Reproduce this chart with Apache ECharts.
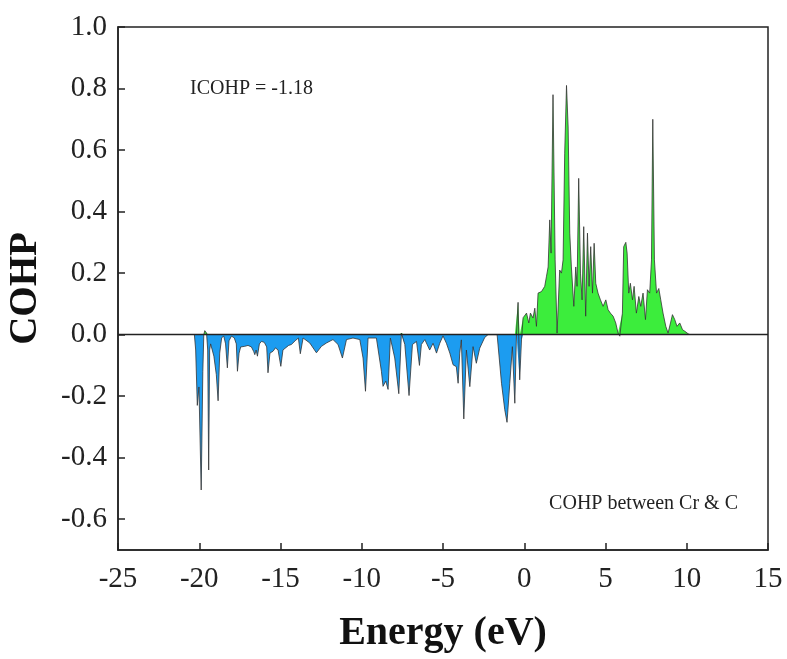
<!DOCTYPE html>
<html>
<head>
<meta charset="utf-8">
<title>COHP between Cr & C</title>
<script src="https://cdn.jsdelivr.net/npm/echarts@6/dist/echarts.min.js"></script>
<style>
  html, body { margin: 0; padding: 0; background: #fff; }
  #chart { width: 787px; height: 659px; }
</style>
</head>
<body>
<div id="chart"></div>
<script>
// bonding / antibonding COHP, energy in eV
// below the Fermi level (mostly negative)
const energyLow = [
  -20.30, -20.22, -20.12, -20.02, -19.88, -19.78, -19.72, -19.66, -19.55, -19.48,
  -19.42, -19.36, -19.30, -19.10, -18.95, -18.84, -18.74, -18.62, -18.49, -18.38,
  -18.27, -18.17, -18.02, -17.85, -17.72, -17.65, -17.55, -17.45, -17.20, -17.00,
  -16.79, -16.65, -16.58, -16.50, -16.42, -16.30, -16.17, -16.00, -15.85, -15.77,
  -15.65, -15.46, -15.31, -15.15, -14.98, -14.85, -14.74, -14.50, -14.33, -14.10,
  -13.90, -13.78, -13.61, -13.20, -12.79, -12.48, -12.17, -11.77, -11.46, -11.19,
  -10.94, -10.54, -10.12, -9.92, -9.77, -9.61, -9.10, -8.79, -8.69, -8.52,
  -8.38, -8.24, -7.97, -7.72, -7.56, -7.35, -7.09, -6.88, -6.63, -6.45,
  -6.33, -6.12, -6.02, -5.82, -5.61, -5.40, -5.20, -5.00, -4.79, -4.58,
  -4.38, -4.18, -4.07, -3.97, -3.87, -3.72, -3.56, -3.35, -3.15, -2.95,
  -2.74, -2.43, -2.23, -1.67, -1.61, -1.40, -1.20, -1.06, -0.89, -0.73,
  -0.58, -0.48, -0.38, -0.28, -0.17, -0.07
];
const cohpLow = [
  0, -0.05, -0.23, -0.17, -0.505, -0.12, 0, 0.013, 0.005, -0.05,
  -0.44, -0.05, -0.03, -0.07, -0.13, -0.215, -0.06, -0.01, -0.005, -0.03,
  -0.108, -0.02, -0.005, -0.01, -0.03, -0.119, -0.06, -0.04, -0.038, -0.035,
  -0.04, -0.055, -0.065, -0.05, -0.07, -0.03, -0.022, -0.025, -0.04, -0.124,
  -0.06, -0.054, -0.043, -0.05, -0.103, -0.05, -0.049, -0.035, -0.032, -0.02,
  -0.011, -0.062, -0.011, -0.027, -0.059, -0.038, -0.027, -0.016, -0.032, -0.076,
  -0.016, -0.011, -0.016, -0.076, -0.184, -0.011, -0.011, -0.119, -0.168, -0.151,
  -0.178, -0.011, -0.076, -0.192, 0.005, -0.032, -0.198, -0.032, -0.022, -0.1,
  -0.032, -0.016, -0.017, -0.05, -0.028, -0.06, -0.028, -0.004, -0.028, -0.06,
  -0.098, -0.104, -0.158, -0.06, -0.017, -0.274, -0.05, -0.169, -0.039, -0.093,
  -0.044, -0.009, 0, 0, -0.006, -0.158, -0.244, -0.285, -0.158, -0.039,
  -0.223, 0, 0.105, -0.147, -0.017, 0.055
];
// above the Fermi level (mostly positive)
const energyHigh = [
  0.03, 0.14, 0.28, 0.38, 0.54, 0.65, 0.75, 0.85, 1.06, 1.26,
  1.37, 1.47, 1.57, 1.65, 1.77, 1.90, 2.02, 2.18, 2.29, 2.39,
  2.49, 2.60, 2.70, 2.80, 2.90, 3.05, 3.17, 3.25, 3.35, 3.46,
  3.56, 3.66, 3.78, 3.89, 3.99, 4.09, 4.20, 4.30, 4.40, 4.54,
  4.69, 4.85, 5.02, 5.16, 5.30, 5.47, 5.63, 5.77, 5.88, 6.04,
  6.12, 6.25, 6.33, 6.43, 6.53, 6.66, 6.76, 6.90, 7.05, 7.17,
  7.31, 7.46, 7.58, 7.72, 7.83, 7.91, 8.01, 8.14, 8.28, 8.40,
  8.54, 8.71, 8.85, 9.00, 9.12, 9.26, 9.40, 9.57, 9.74, 9.88,
  10.08, 10.20
];
const cohpHigh = [
  0.06, 0.07, 0.038, 0.07, 0.054, 0.086, 0.027, 0.135, 0.14, 0.157,
  0.19, 0.22, 0.373, 0.265, 0.78, 0.243, 0.005, 0.21, 0.2, 0.243,
  0.59, 0.81, 0.675, 0.33, 0.22, 0.092, 0.22, 0.157, 0.508, 0.2,
  0.113, 0.351, 0.06, 0.33, 0.157, 0.286, 0.135, 0.297, 0.167, 0.135,
  0.113, 0.092, 0.113, 0.081, 0.07, 0.06, 0.038, 0.005, -0.005, 0.07,
  0.286, 0.30, 0.265, 0.135, 0.167, 0.113, 0.157, 0.07, 0.124, 0.092,
  0.135, 0.049, 0.146, 0.135, 0.243, 0.70, 0.243, 0.135, 0.15, 0.113,
  0.07, 0.027, 0.005, 0.038, 0.065, 0.049, 0.027, 0.038, 0.016, 0.011,
  0.003, 0
];
const yTicks = [-0.6, -0.4, -0.2, 0.0, 0.2, 0.4, 0.6, 0.8, 1.0];

const serif = "'Liberation Serif', 'DejaVu Serif', serif";
const chart = echarts.init(document.getElementById("chart"));

const energy = energyLow.concat(energyHigh);
const cohp = cohpLow.concat(cohpHigh);
const full = energy.map((e, i) => [e, cohp[i]]);
const neg = energy.map((e, i) => [e, Math.min(cohp[i], 0)]);
const pos = energy.map((e, i) => [e, Math.max(cohp[i], 0)]);

const option = {
  animation: false,
  backgroundColor: "#fff",
  grid: {
    left: 118,
    right: 19,
    top: 27,
    bottom: 109,
    outerBoundsMode: "none",
    show: true,
    borderColor: "#222",
    borderWidth: 1.5,
  },
  xAxis: {
    type: "value",
    min: -25,
    max: 15,
    interval: 5,
    name: "Energy (eV)",
    nameLocation: "middle",
    nameGap: 64,
    nameTextStyle: { fontFamily: serif, fontWeight: "bold", fontSize: 40, color: "#111" },
    axisLine: { onZero: false, lineStyle: { color: "#222", width: 1.5 } },
    axisTick: { inside: true, length: 7, lineStyle: { color: "#222", width: 1.5 } },
    axisLabel: { fontFamily: serif, fontSize: 29, color: "#222", margin: 15 },
    splitLine: { show: false },
  },
  yAxis: {
    type: "value",
    min: -0.7,
    max: 1.0,
    name: "COHP",
    nameLocation: "middle",
    nameRotate: 90,
    nameGap: 73,
    nameTextStyle: { fontFamily: serif, fontWeight: "bold", fontSize: 39, color: "#111" },
    axisLine: { onZero: false, lineStyle: { color: "#222", width: 1.5 } },
    axisTick: { inside: true, length: 7, customValues: yTicks, lineStyle: { color: "#222", width: 1.5 } },
    axisLabel: {
      fontFamily: serif,
      fontSize: 29,
      color: "#222",
      margin: 11,
      customValues: yTicks,
      formatter: (v) => v.toFixed(1),
    },
    splitLine: { show: false },
  },
  graphic: [
    {
      type: "text",
      left: 190,
      top: 79,
      style: { text: "ICOHP = -1.18", fontFamily: serif, fontSize: 20, fill: "#222" },
    },
    {
      type: "text",
      right: 49,
      top: 494,
      style: { text: "COHP between Cr & C", fontFamily: serif, fontSize: 20, fill: "#222" },
    },
  ],
  series: [
    {
      type: "line",
      data: neg,
      symbol: "none",
      lineStyle: { width: 0 },
      areaStyle: { color: "#1c9cf0", opacity: 1 },
      silent: true,
    },
    {
      type: "line",
      data: pos,
      symbol: "none",
      lineStyle: { width: 0 },
      areaStyle: { color: "#3ced3c", opacity: 1 },
      silent: true,
    },
    {
      type: "line",
      data: full,
      symbol: "none",
      lineStyle: { color: "#333", width: 0.8 },
      silent: true,
      markLine: {
        silent: true,
        symbol: "none",
        label: { show: false },
        lineStyle: { color: "#222", width: 1.3, type: "solid" },
        data: [{ yAxis: 0 }],
      },
    },
  ],
};

chart.setOption(option);
</script>
</body>
</html>
